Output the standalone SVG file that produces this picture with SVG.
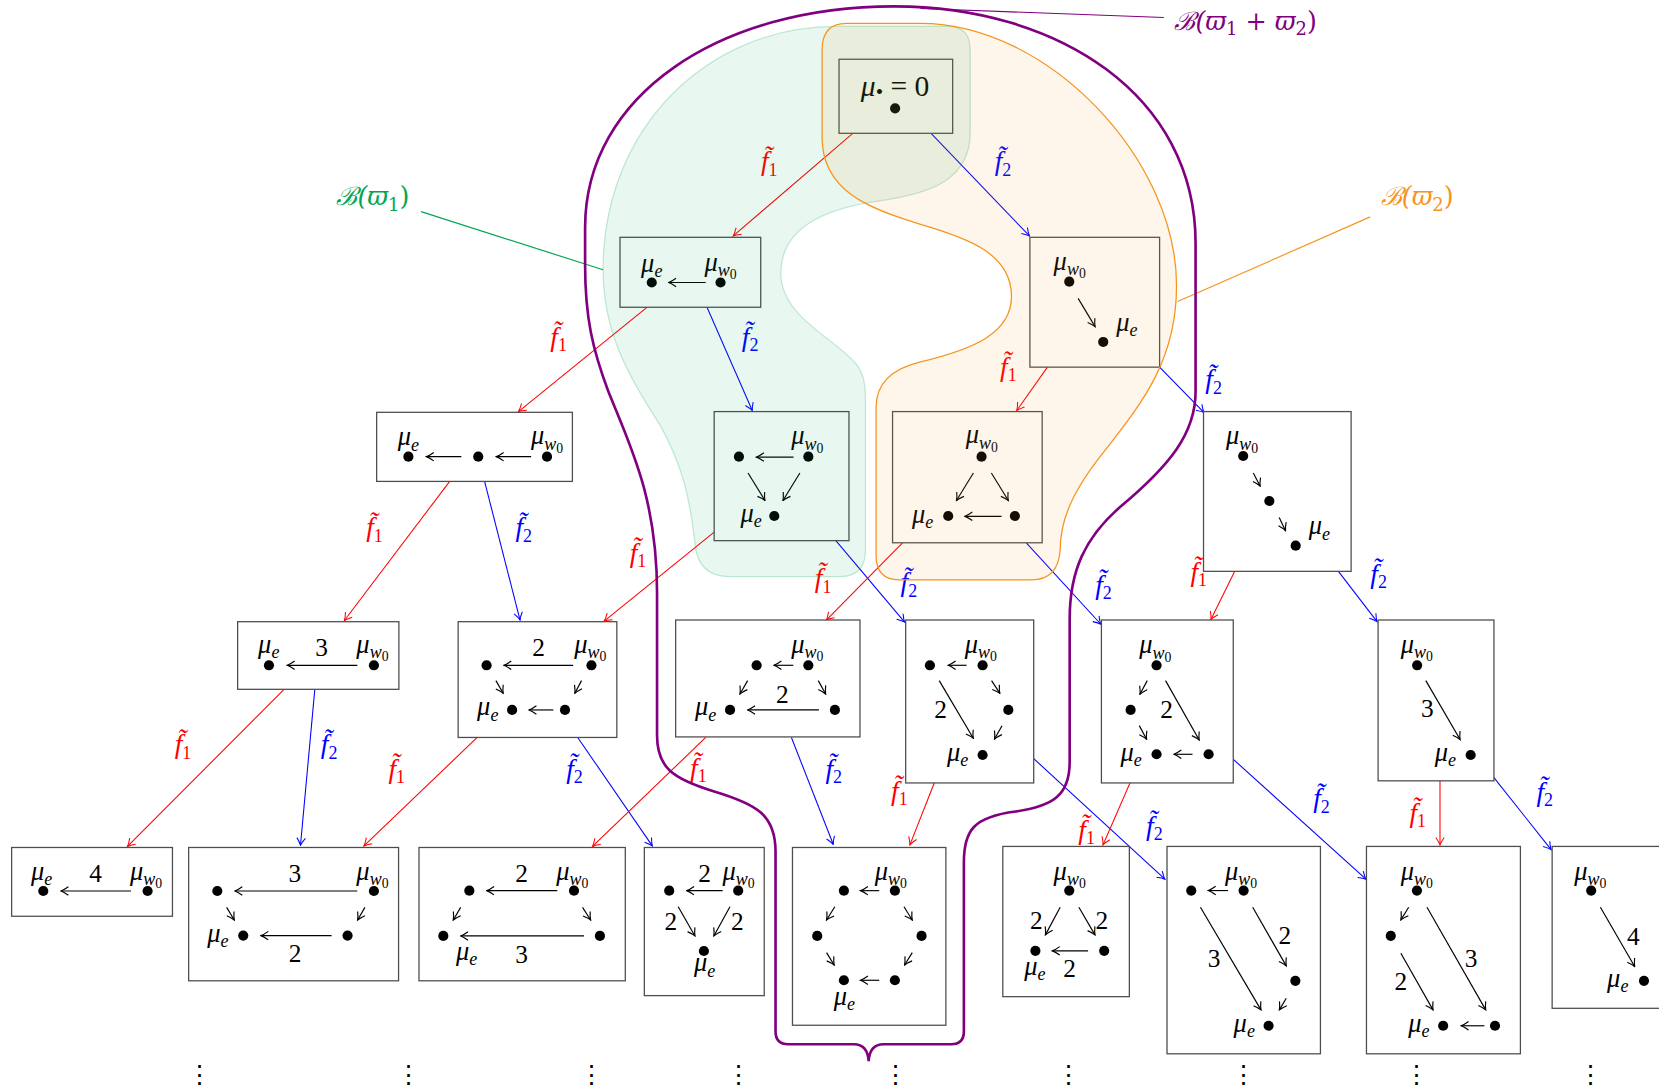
<svg xmlns="http://www.w3.org/2000/svg" width="1659" height="1091" viewBox="0 0 1659 1091">
<defs>
<style>
.bx{fill:#fff;stroke:#4d4d4d;stroke-width:1.2}
.dt{fill:#000}
.ar{stroke:#000;stroke-width:1.1;fill:none;marker-end:url(#ak)}
.er{stroke:#ff0000;stroke-width:1;fill:none;marker-end:url(#mr)}
.eb{stroke:#0000ff;stroke-width:1;fill:none;marker-end:url(#mb)}
.m{font-family:"Liberation Serif","DejaVu Serif",serif;font-style:italic;font-size:25px;text-anchor:middle;fill:#000}
.s{font-size:17px}
.z{font-size:13px;font-style:normal}
.n{font-family:"Liberation Serif","DejaVu Serif",serif;font-size:24px;text-anchor:middle;fill:#000}
.lr{font-family:"Liberation Serif","DejaVu Serif",serif;font-style:italic;font-size:26px;fill:#ff0000;text-anchor:middle}
.lb{font-family:"Liberation Serif","DejaVu Serif",serif;font-style:italic;font-size:26px;fill:#0000ff;text-anchor:middle}
.ls{font-size:17px;font-style:normal}
.vd{font-family:"DejaVu Serif",serif;font-size:24px;text-anchor:middle;fill:#000}
.bl{font-family:"DejaVu Serif","Liberation Serif",serif;font-style:italic;font-size:24px}
</style>
<marker id="ak" viewBox="-9 -6 10 12" refX="0" refY="0" markerWidth="10" markerHeight="12" orient="auto" markerUnits="userSpaceOnUse"><path d="M-7,-4 Q-2.5,-0.8 0,0 Q-2.5,0.8 -7,4" fill="none" stroke="#000" stroke-width="1.1"/></marker>
<marker id="mr" viewBox="-9 -6 10 12" refX="0" refY="0" markerWidth="10" markerHeight="12" orient="auto" markerUnits="userSpaceOnUse"><path d="M-7,-4 Q-2.5,-0.8 0,0 Q-2.5,0.8 -7,4" fill="none" stroke="#ff0000" stroke-width="1"/></marker>
<marker id="mb" viewBox="-9 -6 10 12" refX="0" refY="0" markerWidth="10" markerHeight="12" orient="auto" markerUnits="userSpaceOnUse"><path d="M-7,-4 Q-2.5,-0.8 0,0 Q-2.5,0.8 -7,4" fill="none" stroke="#0000ff" stroke-width="1"/></marker>
</defs>
<rect x="0" y="0" width="1659" height="1091" fill="#fff"/>
<g transform="scale(1.05804)">

<g id="connectors">
<line class="er" x1="806" y1="126" x2="693" y2="223"/>
<line class="eb" x1="880" y1="126" x2="973" y2="223"/>
<line class="er" x1="612" y1="290" x2="490" y2="389"/>
<line class="eb" x1="668" y1="290" x2="711" y2="388"/>
<line class="er" x1="990" y1="347" x2="961" y2="388"/>
<line class="eb" x1="1096" y1="347" x2="1138" y2="390"/>
<line class="er" x1="425" y1="455" x2="325.5" y2="586.5"/>
<line class="eb" x1="458" y1="455" x2="491.5" y2="586"/>
<line class="er" x1="675" y1="503" x2="571" y2="587"/>
<line class="eb" x1="790" y1="511" x2="855" y2="588"/>
<line class="er" x1="853" y1="513" x2="781" y2="586"/>
<line class="eb" x1="970" y1="513" x2="1040.5" y2="590"/>
<line class="er" x1="1167" y1="540" x2="1144.5" y2="585.5"/>
<line class="eb" x1="1265" y1="540" x2="1301.5" y2="587.5"/>
<line class="er" x1="268" y1="652" x2="120.5" y2="800"/>
<line class="eb" x1="297.5" y1="652" x2="284" y2="799"/>
<line class="er" x1="451" y1="697" x2="344" y2="799.5"/>
<line class="eb" x1="546" y1="697" x2="616.5" y2="799.5"/>
<line class="er" x1="667" y1="697" x2="560" y2="800"/>
<line class="eb" x1="748" y1="697" x2="787.5" y2="798"/>
<line class="er" x1="883" y1="740" x2="860" y2="798.5"/>
<line class="eb" x1="977" y1="717" x2="1101" y2="831"/>
<line class="er" x1="1068" y1="740" x2="1042.5" y2="798.5"/>
<line class="eb" x1="1166" y1="718" x2="1291" y2="831"/>
<line class="er" x1="1361" y1="738" x2="1361" y2="798.5"/>
<line class="eb" x1="1412" y1="735" x2="1466" y2="803"/>
</g>

<g id="edge-labels">
<text class="lr" x="727" y="161">f̃<tspan class="ls" dy="5">1</tspan></text>
<text class="lb" x="948" y="161">f̃<tspan class="ls" dy="5">2</tspan></text>
<text class="lr" x="528" y="327">f̃<tspan class="ls" dy="5">1</tspan></text>
<text class="lb" x="709" y="327">f̃<tspan class="ls" dy="5">2</tspan></text>
<text class="lr" x="953" y="355">f̃<tspan class="ls" dy="5">1</tspan></text>
<text class="lb" x="1147" y="367">f̃<tspan class="ls" dy="5">2</tspan></text>
<text class="lr" x="354" y="507">f̃<tspan class="ls" dy="5">1</tspan></text>
<text class="lb" x="495" y="507">f̃<tspan class="ls" dy="5">2</tspan></text>
<text class="lr" x="603" y="531">f̃<tspan class="ls" dy="5">1</tspan></text>
<text class="lb" x="859" y="559">f̃<tspan class="ls" dy="5">2</tspan></text>
<text class="lr" x="778" y="555">f̃<tspan class="ls" dy="5">1</tspan></text>
<text class="lb" x="1043" y="561">f̃<tspan class="ls" dy="5">2</tspan></text>
<text class="lr" x="1133" y="549">f̃<tspan class="ls" dy="5">1</tspan></text>
<text class="lb" x="1303" y="551">f̃<tspan class="ls" dy="5">2</tspan></text>
<text class="lr" x="173" y="712">f̃<tspan class="ls" dy="5">1</tspan></text>
<text class="lb" x="311" y="712">f̃<tspan class="ls" dy="5">2</tspan></text>
<text class="lr" x="375" y="735">f̃<tspan class="ls" dy="5">1</tspan></text>
<text class="lb" x="543" y="735">f̃<tspan class="ls" dy="5">2</tspan></text>
<text class="lr" x="660" y="734">f̃<tspan class="ls" dy="5">1</tspan></text>
<text class="lb" x="788" y="735">f̃<tspan class="ls" dy="5">2</tspan></text>
<text class="lr" x="850" y="756">f̃<tspan class="ls" dy="5">1</tspan></text>
<text class="lb" x="1091" y="789">f̃<tspan class="ls" dy="5">2</tspan></text>
<text class="lr" x="1027" y="793">f̃<tspan class="ls" dy="5">1</tspan></text>
<text class="lb" x="1249" y="763">f̃<tspan class="ls" dy="5">2</tspan></text>
<text class="lr" x="1340" y="777">f̃<tspan class="ls" dy="5">1</tspan></text>
<text class="lb" x="1460" y="757">f̃<tspan class="ls" dy="5">2</tspan></text>
</g>

<g id="n-top">
<rect class="bx" x="793" y="56" width="107.4" height="70"/>
<text class="m" x="846" y="91" style="font-size:28px">μ<tspan style="font-size:20px;font-style:normal" dy="3">•</tspan><tspan dy="-3" style="font-style:normal"> = 0</tspan></text>
<circle class="dt" cx="846" cy="102.4" r="4.8"/>
</g>

<g id="n-B1">
<rect class="bx" x="586" y="224.3" width="133" height="66.1"/>
<circle class="dt" cx="616" cy="267" r="4.8"/><circle class="dt" cx="681" cy="267" r="4.8"/>
<line class="ar" x1="667" y1="267" x2="632" y2="267"/>
<text class="m" x="616" y="257">μ<tspan class="s" dy="5">e</tspan></text>
<text class="m" x="681" y="256">μ<tspan class="s" dy="5">w</tspan><tspan class="z" dy="3">0</tspan></text>
</g>

<g id="n-B2">
<rect class="bx" x="973.4" y="224.3" width="122.6" height="122.7"/>
<circle class="dt" cx="1010.6" cy="266.2" r="4.8"/><circle class="dt" cx="1042.7" cy="323.2" r="4.8"/>
<line class="ar" x1="1019" y1="282" x2="1035" y2="308.7"/>
<text class="m" x="1011" y="255">μ<tspan class="s" dy="5">w</tspan><tspan class="z" dy="3">0</tspan></text>
<text class="m" x="1065" y="313">μ<tspan class="s" dy="5">e</tspan></text>
</g>

<g id="n-C1">
<rect class="bx" x="356" y="389.7" width="185" height="65.3"/>
<circle class="dt" cx="386" cy="431.6" r="4.8"/><circle class="dt" cx="452" cy="431.6" r="4.8"/><circle class="dt" cx="517" cy="431.6" r="4.8"/>
<line class="ar" x1="436" y1="431.6" x2="403" y2="431.6"/>
<line class="ar" x1="502" y1="431.6" x2="469" y2="431.6"/>
<text class="m" x="386" y="421">μ<tspan class="s" dy="5">e</tspan></text>
<text class="m" x="517" y="420">μ<tspan class="s" dy="5">w</tspan><tspan class="z" dy="3">0</tspan></text>
</g>

<g id="n-C2">
<rect class="bx" x="675" y="389" width="127.4" height="122"/>
<circle class="dt" cx="698.4" cy="431.6" r="4.8"/><circle class="dt" cx="764" cy="431.6" r="4.8"/><circle class="dt" cx="731.8" cy="487.7" r="4.8"/>
<line class="ar" x1="750" y1="432" x2="715" y2="432"/>
<line class="ar" x1="707" y1="447" x2="723" y2="473"/>
<line class="ar" x1="756" y1="447" x2="740" y2="473"/>
<text class="m" x="763" y="420">μ<tspan class="s" dy="5">w</tspan><tspan class="z" dy="3">0</tspan></text>
<text class="m" x="710" y="493">μ<tspan class="s" dy="5">e</tspan></text>
</g>

<g id="n-C3">
<rect class="bx" x="843.6" y="389" width="141.4" height="124"/>
<circle class="dt" cx="927.7" cy="431.6" r="4.8"/><circle class="dt" cx="896.2" cy="487.7" r="4.8"/><circle class="dt" cx="959.2" cy="487.7" r="4.8"/>
<line class="ar" x1="920" y1="447" x2="904" y2="473"/>
<line class="ar" x1="937" y1="447" x2="953" y2="473"/>
<line class="ar" x1="946.6" y1="488" x2="912" y2="488"/>
<text class="m" x="928" y="419">μ<tspan class="s" dy="5">w</tspan><tspan class="z" dy="3">0</tspan></text>
<text class="m" x="872" y="494">μ<tspan class="s" dy="5">e</tspan></text>
</g>

<g id="n-C4">
<rect class="bx" x="1137.5" y="389" width="139.5" height="151"/>
<circle class="dt" cx="1175" cy="431" r="4.8"/><circle class="dt" cx="1199.7" cy="473.5" r="4.8"/><circle class="dt" cx="1224.6" cy="515.7" r="4.8"/>
<line class="ar" x1="1184.6" y1="447" x2="1191" y2="459.5"/>
<line class="ar" x1="1209" y1="489" x2="1215" y2="501.6"/>
<text class="m" x="1174" y="420">μ<tspan class="s" dy="5">w</tspan><tspan class="z" dy="3">0</tspan></text>
<text class="m" x="1247" y="505">μ<tspan class="s" dy="5">e</tspan></text>
</g>

<g id="n-D1">
<rect class="bx" x="224.6" y="587.6" width="152.4" height="63.9"/>
<circle class="dt" cx="254.2" cy="628.8" r="4.8"/><circle class="dt" cx="353.4" cy="628.8" r="4.8"/>
<line class="ar" x1="337.7" y1="628.8" x2="271.5" y2="628.8"/>
<text class="n" x="304" y="620">3</text>
<text class="m" x="254" y="617">μ<tspan class="s" dy="5">e</tspan></text>
<text class="m" x="352" y="617">μ<tspan class="s" dy="5">w</tspan><tspan class="z" dy="3">0</tspan></text>
</g>

<g id="n-D2">
<rect class="bx" x="433" y="587.6" width="150" height="109.4"/>
<circle class="dt" cx="459.9" cy="628.8" r="4.8"/><circle class="dt" cx="559" cy="628.8" r="4.8"/><circle class="dt" cx="484" cy="671" r="4.8"/><circle class="dt" cx="534" cy="671" r="4.8"/>
<line class="ar" x1="541.7" y1="628.8" x2="476.2" y2="628.8"/>
<line class="ar" x1="468.7" y1="643.3" x2="475.6" y2="655.3"/>
<line class="ar" x1="549.6" y1="643.3" x2="543.3" y2="655.3"/>
<line class="ar" x1="523" y1="671" x2="500" y2="671"/>
<text class="n" x="509" y="620">2</text>
<text class="m" x="558" y="617">μ<tspan class="s" dy="5">w</tspan><tspan class="z" dy="3">0</tspan></text>
<text class="m" x="461" y="676">μ<tspan class="s" dy="5">e</tspan></text>
</g>

<g id="n-D3">
<rect class="bx" x="638.6" y="586" width="174.2" height="110.5"/>
<circle class="dt" cx="715.1" cy="628.8" r="4.8"/><circle class="dt" cx="764" cy="628.8" r="4.8"/><circle class="dt" cx="690" cy="671" r="4.8"/><circle class="dt" cx="789.1" cy="671" r="4.8"/>
<line class="ar" x1="749.8" y1="628.8" x2="731.5" y2="628.8"/>
<line class="ar" x1="706.6" y1="643.3" x2="699.4" y2="655.9"/>
<line class="ar" x1="773.4" y1="643.3" x2="780.3" y2="655.9"/>
<line class="ar" x1="774" y1="671" x2="706.6" y2="671"/>
<text class="n" x="739.4" y="664">2</text>
<text class="m" x="667" y="676">μ<tspan class="s" dy="5">e</tspan></text>
<text class="m" x="763" y="617">μ<tspan class="s" dy="5">w</tspan><tspan class="z" dy="3">0</tspan></text>
</g>

<g id="n-D4">
<rect class="bx" x="856" y="586" width="121" height="154"/>
<circle class="dt" cx="878.9" cy="628.8" r="4.8"/><circle class="dt" cx="928.7" cy="628.8" r="4.8"/><circle class="dt" cx="953" cy="671" r="4.8"/><circle class="dt" cx="928.7" cy="713.6" r="4.8"/>
<line class="ar" x1="913.6" y1="628.8" x2="896.2" y2="628.8"/>
<line class="ar" x1="887.7" y1="643.3" x2="919.9" y2="697.8"/>
<line class="ar" x1="937.2" y1="643.3" x2="945" y2="655.3"/>
<line class="ar" x1="947" y1="686" x2="940" y2="698.5"/>
<text class="n" x="889" y="679">2</text>
<text class="m" x="927" y="617">μ<tspan class="s" dy="5">w</tspan><tspan class="z" dy="3">0</tspan></text>
<text class="m" x="905" y="719">μ<tspan class="s" dy="5">e</tspan></text>
</g>

<g id="n-D5">
<rect class="bx" x="1041" y="586" width="124.6" height="154"/>
<circle class="dt" cx="1093.1" cy="628.8" r="4.8"/><circle class="dt" cx="1068.6" cy="671" r="4.8"/><circle class="dt" cx="1093.1" cy="712.9" r="4.8"/><circle class="dt" cx="1142.3" cy="712.9" r="4.8"/>
<line class="ar" x1="1084.3" y1="643.3" x2="1077.4" y2="656.2"/>
<line class="ar" x1="1076.8" y1="685.8" x2="1083.7" y2="698.7"/>
<line class="ar" x1="1101.6" y1="643.3" x2="1133.4" y2="699.4"/>
<line class="ar" x1="1127.1" y1="712.9" x2="1109.5" y2="712.9"/>
<text class="n" x="1102.6" y="679">2</text>
<text class="m" x="1092" y="617.5">μ<tspan class="s" dy="5">w</tspan><tspan class="z" dy="3">0</tspan></text>
<text class="m" x="1069" y="719">μ<tspan class="s" dy="5">e</tspan></text>
</g>

<g id="n-D6">
<rect class="bx" x="1302.5" y="586" width="109.5" height="152"/>
<circle class="dt" cx="1339.4" cy="628.8" r="4.8"/><circle class="dt" cx="1390" cy="713.6" r="4.8"/>
<line class="ar" x1="1347.6" y1="643.3" x2="1380" y2="699"/>
<text class="n" x="1349" y="678">3</text>
<text class="m" x="1339" y="617">μ<tspan class="s" dy="5">w</tspan><tspan class="z" dy="3">0</tspan></text>
<text class="m" x="1366" y="719">μ<tspan class="s" dy="5">e</tspan></text>
</g>

<g id="n-E1">
<rect class="bx" x="11" y="801" width="152" height="65"/>
<circle class="dt" cx="40.9" cy="842.1" r="4.8"/><circle class="dt" cx="139.5" cy="842.1" r="4.8"/>
<line class="ar" x1="123.8" y1="842.1" x2="57.6" y2="842.1"/>
<text class="n" x="90.4" y="834">4</text>
<text class="m" x="39.4" y="831.7">μ<tspan class="s" dy="5">e</tspan></text>
<text class="m" x="138" y="831.7">μ<tspan class="s" dy="5">w</tspan><tspan class="z" dy="3">0</tspan></text>
</g>

<g id="n-E2">
<rect class="bx" x="178.3" y="801" width="198.4" height="126"/>
<circle class="dt" cx="205.4" cy="842.1" r="4.8"/><circle class="dt" cx="353.4" cy="842.1" r="4.8"/><circle class="dt" cx="229.9" cy="884.3" r="4.8"/><circle class="dt" cx="328.5" cy="884.3" r="4.8"/>
<line class="ar" x1="337.6" y1="842.1" x2="222" y2="842.1"/>
<line class="ar" x1="214.2" y1="857.6" x2="221.4" y2="869.5"/>
<line class="ar" x1="344.9" y1="857.6" x2="338" y2="869.5"/>
<line class="ar" x1="313.4" y1="884.3" x2="246.6" y2="884.3"/>
<text class="n" x="278.7" y="834">3</text>
<text class="n" x="279" y="909">2</text>
<text class="m" x="206" y="890">μ<tspan class="s" dy="5">e</tspan></text>
<text class="m" x="352" y="831.7">μ<tspan class="s" dy="5">w</tspan><tspan class="z" dy="3">0</tspan></text>
</g>

<g id="n-E3">
<rect class="bx" x="396" y="801" width="195" height="126"/>
<circle class="dt" cx="443.6" cy="841.8" r="4.8"/><circle class="dt" cx="542.5" cy="841.8" r="4.8"/><circle class="dt" cx="419" cy="884.6" r="4.8"/><circle class="dt" cx="567" cy="884.6" r="4.8"/>
<line class="ar" x1="526.7" y1="841.8" x2="460" y2="841.8"/>
<line class="ar" x1="435.4" y1="857.6" x2="428.4" y2="869.5"/>
<line class="ar" x1="550.6" y1="857.6" x2="558.2" y2="869.5"/>
<line class="ar" x1="551.9" y1="884.6" x2="435.4" y2="884.6"/>
<text class="n" x="493" y="834">2</text>
<text class="n" x="493" y="910">3</text>
<text class="m" x="541" y="831.7">μ<tspan class="s" dy="5">w</tspan><tspan class="z" dy="3">0</tspan></text>
<text class="m" x="441" y="907">μ<tspan class="s" dy="5">e</tspan></text>
</g>

<g id="n-E4">
<rect class="bx" x="609" y="801" width="113.3" height="140"/>
<circle class="dt" cx="632.5" cy="841.8" r="4.8"/><circle class="dt" cx="697.7" cy="841.8" r="4.8"/><circle class="dt" cx="665.3" cy="898.8" r="4.8"/>
<line class="ar" x1="683" y1="841.8" x2="649" y2="841.8"/>
<line class="ar" x1="641" y1="857" x2="656.8" y2="884.6"/>
<line class="ar" x1="689.9" y1="857" x2="674.7" y2="884.6"/>
<text class="n" x="666" y="834">2</text>
<text class="n" x="634" y="879">2</text>
<text class="n" x="697" y="879">2</text>
<text class="m" x="698" y="831.7">μ<tspan class="s" dy="5">w</tspan><tspan class="z" dy="3">0</tspan></text>
<text class="m" x="666" y="918">μ<tspan class="s" dy="5">e</tspan></text>
</g>

<g id="n-E5">
<rect class="bx" x="749" y="801" width="145" height="168"/>
<circle class="dt" cx="797.6" cy="841.8" r="4.8"/><circle class="dt" cx="845.8" cy="841.8" r="4.8"/><circle class="dt" cx="772.4" cy="884.6" r="4.8"/><circle class="dt" cx="871" cy="884.6" r="4.8"/><circle class="dt" cx="797.6" cy="926.5" r="4.8"/><circle class="dt" cx="845.8" cy="926.5" r="4.8"/>
<line class="ar" x1="831" y1="841.8" x2="813.3" y2="841.8"/>
<line class="ar" x1="789" y1="857" x2="781.2" y2="869.5"/>
<line class="ar" x1="854.4" y1="857" x2="862.2" y2="869.5"/>
<line class="ar" x1="781.2" y1="900.4" x2="788.4" y2="912"/>
<line class="ar" x1="862.2" y1="900.4" x2="855" y2="912"/>
<line class="ar" x1="831" y1="926.5" x2="813.3" y2="926.5"/>
<text class="m" x="842" y="831.7">μ<tspan class="s" dy="5">w</tspan><tspan class="z" dy="3">0</tspan></text>
<text class="m" x="798" y="950">μ<tspan class="s" dy="5">e</tspan></text>
</g>

<g id="n-E6">
<rect class="bx" x="947.8" y="800" width="119.6" height="142"/>
<circle class="dt" cx="1010.6" cy="841.7" r="4.8"/><circle class="dt" cx="978.6" cy="898.7" r="4.8"/><circle class="dt" cx="1043.6" cy="898.7" r="4.8"/>
<line class="ar" x1="1002" y1="857.5" x2="988.1" y2="883.6"/>
<line class="ar" x1="1019.7" y1="857.5" x2="1034.9" y2="883.6"/>
<line class="ar" x1="1028.4" y1="898.7" x2="994.6" y2="898.7"/>
<text class="n" x="979.4" y="878.3">2</text>
<text class="n" x="1041.4" y="878.3">2</text>
<text class="n" x="1011" y="923.6">2</text>
<text class="m" x="1011" y="831.6">μ<tspan class="s" dy="5">w</tspan><tspan class="z" dy="3">0</tspan></text>
<text class="m" x="978" y="921.4">μ<tspan class="s" dy="5">e</tspan></text>
</g>

<g id="n-E7">
<rect class="bx" x="1103" y="800" width="145" height="196"/>
<circle class="dt" cx="1125.9" cy="841.7" r="4.8"/><circle class="dt" cx="1175.4" cy="841.7" r="4.8"/><circle class="dt" cx="1224.3" cy="927" r="4.8"/><circle class="dt" cx="1199" cy="969.5" r="4.8"/>
<line class="ar" x1="1160.6" y1="841.7" x2="1142" y2="841.7"/>
<line class="ar" x1="1134.6" y1="857.5" x2="1191.8" y2="954.5"/>
<line class="ar" x1="1184" y1="857.5" x2="1215.7" y2="912.9"/>
<line class="ar" x1="1215.7" y1="943.5" x2="1209.2" y2="954.5"/>
<text class="n" x="1147.6" y="913.5">3</text>
<text class="n" x="1214.4" y="892">2</text>
<text class="m" x="1173" y="831.6">μ<tspan class="s" dy="5">w</tspan><tspan class="z" dy="3">0</tspan></text>
<text class="m" x="1176" y="975">μ<tspan class="s" dy="5">e</tspan></text>
</g>

<g id="n-E8">
<rect class="bx" x="1291.5" y="800" width="145.5" height="196"/>
<circle class="dt" cx="1339.2" cy="841.7" r="4.8"/><circle class="dt" cx="1314.5" cy="884.5" r="4.8"/><circle class="dt" cx="1364" cy="969.5" r="4.8"/><circle class="dt" cx="1413" cy="969.5" r="4.8"/>
<line class="ar" x1="1331.4" y1="857.5" x2="1324" y2="869.4"/>
<line class="ar" x1="1324" y1="900.9" x2="1354.4" y2="954.5"/>
<line class="ar" x1="1348.7" y1="857.5" x2="1404.2" y2="954.5"/>
<line class="ar" x1="1403" y1="969.5" x2="1381" y2="969.5"/>
<text class="n" x="1324" y="935.6">2</text>
<text class="n" x="1390.3" y="913.5">3</text>
<text class="m" x="1339" y="831.6">μ<tspan class="s" dy="5">w</tspan><tspan class="z" dy="3">0</tspan></text>
<text class="m" x="1341" y="975">μ<tspan class="s" dy="5">e</tspan></text>
</g>

<g id="n-E9">
<rect class="bx" x="1467" y="800" width="120" height="153"/>
<circle class="dt" cx="1503.9" cy="841.7" r="4.8"/><circle class="dt" cx="1553.8" cy="927" r="4.8"/>
<line class="ar" x1="1512.6" y1="857.5" x2="1545" y2="913.5"/>
<text class="n" x="1543.8" y="893">4</text>
<text class="m" x="1503" y="831.6">μ<tspan class="s" dy="5">w</tspan><tspan class="z" dy="3">0</tspan></text>
<text class="m" x="1529" y="932.4">μ<tspan class="s" dy="5">e</tspan></text>
</g>

<g id="vdots">
<text class="vd" x="189" y="1024">⋮</text>
<text class="vd" x="386" y="1024">⋮</text>
<text class="vd" x="559" y="1024">⋮</text>
<text class="vd" x="698" y="1024">⋮</text>
<text class="vd" x="846" y="1024">⋮</text>
<text class="vd" x="1010" y="1024">⋮</text>
<text class="vd" x="1175" y="1024">⋮</text>
<text class="vd" x="1339" y="1024">⋮</text>
<text class="vd" x="1503" y="1024">⋮</text>
</g>

<g id="region-w1">
<path d="M790,25 L895,25 Q917,25 917,47 L917,125 C917,170 880,183 830,190 C780,197 738,215 738,258 C738,300 790,320 810,345 Q818,355 818,375 L818,520 Q818,545 793,545 L690,545 Q660,545 657,515 C652,470 645,440 624,402 C590,350 570,310 570,255 C570,120 670,25 790,25 Z" fill="#00a651" fill-opacity="0.09" stroke="#00a651" stroke-opacity="0.22" stroke-width="1.2"/>
<line x1="398" y1="200" x2="570" y2="255" stroke="#00a651" stroke-width="1.1"/>
<text class="bl" x="318" y="194" fill="#00a651">ℬ(ϖ<tspan class="ls" dy="5">1</tspan><tspan dy="-5" style="font-style:normal">)</tspan></text>
</g>

<g id="region-w2">
<path d="M800,22 L870,22 C990,22 1112,150 1112,270 C1112,340 1080,380 1045,425 C1015,462 1002,490 1002,520 Q1000,548 975,548 L850,548 Q828,548 828,525 L828,385 Q828,352 870,342 C920,330 956,315 956,280 C956,240 915,225 870,212 C820,197 777,180 777,130 L777,47 Q777,22 800,22 Z" fill="#f7941d" fill-opacity="0.09" stroke="#f7941d" stroke-width="1.2"/>
<line x1="1295" y1="205" x2="1113" y2="285" stroke="#f7941d" stroke-width="1.1"/>
<text class="bl" x="1305" y="194" fill="#f7941d">ℬ(ϖ<tspan class="ls" dy="5">2</tspan><tspan dy="-5" style="font-style:normal">)</tspan></text>
</g>

<g id="region-w1w2">
<path d="M733,975 L733,805 C733,770 715,760 675,748 C635,736 621,725 621,695 L621,560 C621,470 595,420 575,370 C560,330 553,300 553,250 L553,215 C553,90 680,6 845,6 C1000,6 1130,90 1130,230 L1130,370 C1130,410 1105,440 1060,478 C1025,508 1011,540 1011,585 L1011,720 C1011,752 995,762 960,767 C920,772 911,785 911,815 L911,975 Q911,987 899,987 L835,987 Q822,987 821,1003 Q820,987 807,987 L745,987 Q733,987 733,975 Z" fill="none" stroke="#800080" stroke-width="2.5"/>
<line x1="870" y1="8" x2="1100" y2="16.5" stroke="#800080" stroke-width="1.1"/>
<text class="bl" x="1110" y="28" fill="#800080">ℬ(ϖ<tspan class="ls" dy="5">1</tspan><tspan dy="-5" style="font-style:normal"> + </tspan>ϖ<tspan class="ls" dy="5">2</tspan><tspan dy="-5" style="font-style:normal">)</tspan></text>
</g>

</g>
</svg>
